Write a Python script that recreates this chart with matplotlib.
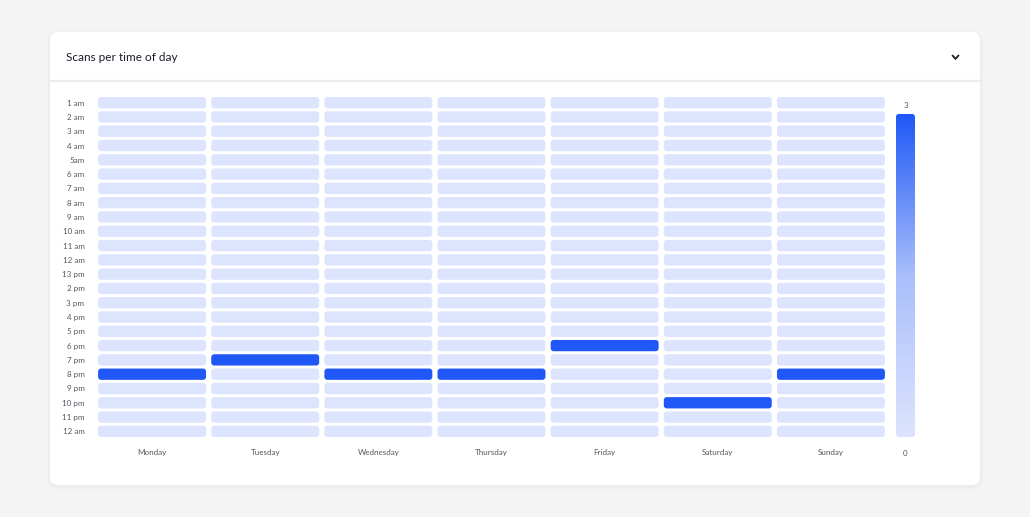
import numpy as np
import matplotlib
matplotlib.use("Agg")
import matplotlib.pyplot as plt
from matplotlib.colors import LinearSegmentedColormap, Normalize
from matplotlib.patches import FancyBboxPatch

plt.rcParams["font.family"] = ["Lato", "DejaVu Sans"]

days = ["Monday", "Tuesday", "Wednesday", "Thursday", "Friday", "Saturday", "Sunday"]
hours = ["1 am", "2 am", "3 am", "4 am", "5am", "6 am", "7 am", "8 am", "9 am",
         "10 am", "11 am", "12 am", "13 pm", "2 pm", "3 pm", "4 pm", "5 pm",
         "6 pm", "7 pm", "8 pm", "9 pm", "10 pm", "11 pm", "12 am"]
# scans per (day, hour); everything else is zero
hits_day = ["Monday", "Tuesday", "Wednesday", "Thursday", "Friday", "Saturday", "Sunday"]
hits_hour = ["8 pm", "7 pm", "8 pm", "8 pm", "6 pm", "10 pm", "8 pm"]
hits_val = [3, 3, 3, 3, 3, 3, 3]
vmin, vmax = 0, 3

counts = np.zeros((len(hours), len(days)))
for d, h, v in zip(hits_day, hits_hour, hits_val):
    counts[hours.index(h), days.index(d)] = v

W, H = 1030, 517
fig = plt.figure(figsize=(W / 100, H / 100), dpi=100)
fig.patch.set_facecolor("#f4f4f5")


def px(x0, y0, x1, y1):
    return [x0 / W, 1 - y1 / H, (x1 - x0) / W, (y1 - y0) / H]


# card background
bg = fig.add_axes([0, 0, 1, 1])
bg.set_xlim(0, W)
bg.set_ylim(H, 0)
bg.axis("off")
for off, a in [(3, 0.012), (1.5, 0.02)]:
    bg.add_patch(FancyBboxPatch((50 - off, 32 - off + 1.5), 930 + 2 * off, 453 + 2 * off,
                                boxstyle="round,pad=0,rounding_size=10",
                                fc="black", ec="none", alpha=a))
bg.add_patch(FancyBboxPatch((50, 32), 930, 453, boxstyle="round,pad=0,rounding_size=8",
                            fc="white", ec="none"))
bg.plot([50, 980], [81, 81], color="#ececee", lw=1.6)
bg.text(66, 57.5, "Scans per time of day", fontsize=8.5, color="#1d1d2b",
        va="center", ha="left")
bg.plot([952.5, 955.5, 958.5], [55.5, 58.8, 55.5], color="#1d1d2b", lw=1.3,
        solid_capstyle="round", solid_joinstyle="miter")

cmap = LinearSegmentedColormap.from_list("scan", ["#dde4fd", "#a9bffb", "#1f58f6"])
norm = Normalize(vmin, vmax)

# heatmap
ax = fig.add_axes(px(95.5, 95.5, 887.5, 438.5))
ax.set_xlim(0, len(days))
ax.set_ylim(len(hours), 0)
xu = 792 / len(days)
yu = 343 / len(hours)
padx, pady = 2.6 / xu, 1.5 / yu
for r in range(len(hours)):
    for c in range(len(days)):
        ax.add_patch(FancyBboxPatch((c + padx, r + pady), 1 - 2 * padx, 1 - 2 * pady,
                                    boxstyle=f"round,pad=0,rounding_size={3 / xu}",
                                    mutation_aspect=xu / yu,
                                    fc=cmap(norm(counts[r, c])), ec="none"))
ax.set_xticks(np.arange(len(days)) + 0.5, days)
ax.set_yticks(np.arange(len(hours)) + 0.5, hours)
ax.tick_params(length=0, labelsize=5.8, labelcolor="#55555f")
ax.tick_params(axis="x", pad=7.5)
ax.tick_params(axis="y", pad=8)
for lbl in ax.get_yticklabels():
    lbl.set_va("center_baseline")
for s in ax.spines.values():
    s.set_visible(False)

# colour scale
cax = fig.add_axes(px(896, 114, 915, 437))
cax.set_xlim(0, 1)
cax.set_ylim(vmin, vmax)
grad = np.linspace(vmin, vmax, 256).reshape(-1, 1)
im = cax.imshow(grad, cmap=cmap, norm=norm, origin="lower", aspect="auto",
                extent=[0, 1, vmin, vmax])
clip = FancyBboxPatch((0, vmin), 1, vmax - vmin, boxstyle="round,pad=0,rounding_size=0.15",
                      mutation_aspect=(vmax - vmin) * 19 / 323, fc="none", ec="none",
                      transform=cax.transData)
cax.add_patch(clip)
im.set_clip_path(clip)
cax.axis("off")
cax.text(0.5, vmax + 0.05, f"{vmax}", ha="center", va="bottom", fontsize=5.8, color="#55555f")
cax.text(0.5, vmin - 0.12, f"{vmin}", ha="center", va="top", fontsize=5.8, color="#55555f")

fig.savefig("out.png", dpi=100, facecolor=fig.get_facecolor())
